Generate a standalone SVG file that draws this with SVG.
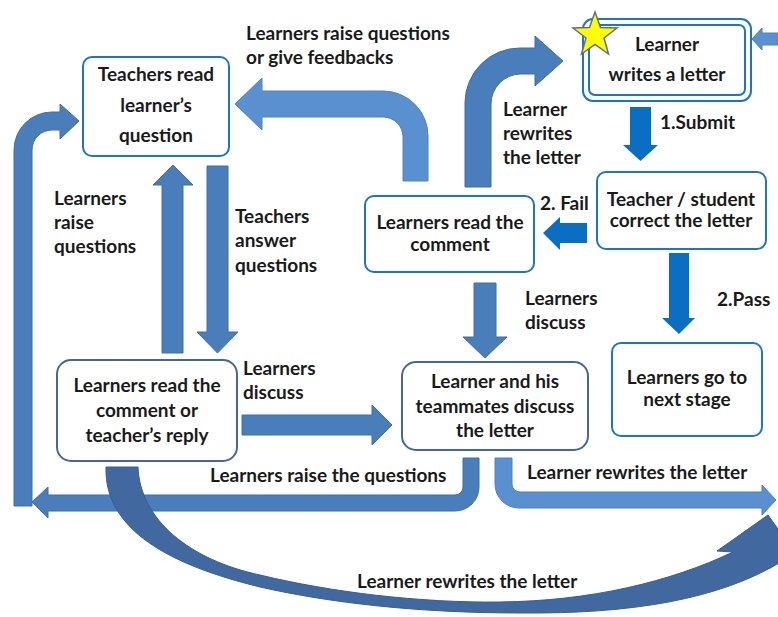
<svg xmlns="http://www.w3.org/2000/svg" width="778" height="617" viewBox="0 0 778 617">
<style>
.t{font-family:Lato,"Liberation Sans",sans-serif;font-weight:bold;font-size:19px;fill:#1a1a1a}
.c{text-anchor:middle}
.box{fill:#fff;stroke:#1f74c4;stroke-width:2}
.box2{fill:#fff;stroke:#44689a;stroke-width:2}
.dk{fill:#4a7ebb;stroke:#3f6ea6;stroke-width:1}
.lt{fill:#5a8fd0;stroke:#4f82c0;stroke-width:1}
.br{fill:#0a6fc2}
.cv{fill:#41689f;stroke:#385e94;stroke-width:1}
</style>
<rect width="778" height="617" fill="#fff"/>
<g id="connectors">
<path class="lt" d="M403,181 V137 A20 20 0 0 0 383,117 H262 V130 L235,104 L262,78 V91 H383 A45 45 0 0 1 428,136 V181 Z"/>
<path class="dk" d="M465,187 V102 A55 55 0 0 1 520,48 H535 V36 L563,61 L535,86 V74 H520 A30 30 0 0 0 491,104 V187 Z"/>
<path class="dk" d="M14,506 V150 A38 38 0 0 1 52,112 H60 V104 L79,121 L60,139 V130 H52 A20 20 0 0 0 32,150 V506 Z"/>
<path class="dk" d="M479,458 V487 A24 24 0 0 1 455,511 H48 V518 L32,502 L48,487 V495 H455 A8 8 0 0 0 463,487 V458 Z"/>
<path class="lt" d="M495,458 V484 A24 24 0 0 0 519,508 H762 V515 L776,500 L762,485 V492 H520 A8 8 0 0 1 512,484 V458 Z"/>
<path class="dk" d="M162,353 V185 H153 L173,165 L193,185 H183 V353 Z"/>
<path class="dk" d="M207,166 V332 H197 L217.5,353 L238,332 H228 V166 Z"/>
<path class="dk" d="M242,415 H372 V405 L392,425 L372,445 V435 H242 Z"/>
<path class="dk" d="M474,283 V337 H463 L485,358 L507,337 H496 V283 Z"/>
<path class="br" d="M630,107 V145 H623 L640.5,161 L658,145 H651 V107 Z"/>
<path class="br" d="M669,253 V318 H662 L679,334 L695,318 H689 V253 Z"/>
<path class="br" d="M587,223 H560 V217 L543,233 L560,250 V243 H587 Z"/>
<path class="lt" d="M778,33 H762 V28 L752,39 L762,50 V45 H778 Z"/>
<path class="cv" d="M106,467 L138,467 C140,520 190,560 260,575 C330,592 420,603 500,602 C590,601 670,582 733,552 L717,551 L768,515 L800,560 L784,560 C720,600 630,614 520,613 C420,613 330,603 260,587 C170,565 104,530 106,467 Z"/>
</g>
<g id="labels">
<text class="t" x="246" y="40">Learners raise questions</text>
<text class="t" x="246" y="64">or give feedbacks</text>
<text class="t" x="660" y="129">1.Submit</text>
<text class="t" x="503" y="116">Learner</text>
<text class="t" x="503" y="140">rewrites</text>
<text class="t" x="503" y="164">the letter</text>
<text class="t" x="540" y="210">2. Fail</text>
<text class="t" x="54" y="205">Learners</text>
<text class="t" x="54" y="229">raise</text>
<text class="t" x="54" y="253">questions</text>
<text class="t" x="235" y="223">Teachers</text>
<text class="t" x="235" y="247">answer</text>
<text class="t" x="235" y="272">questions</text>
<text class="t" x="525" y="305">Learners</text>
<text class="t" x="525" y="329">discuss</text>
<text class="t" x="717" y="306">2.Pass</text>
<text class="t" x="243" y="375">Learners</text>
<text class="t" x="243" y="399">discuss</text>
<text class="t" x="210" y="482">Learners raise the questions</text>
<text class="t" x="527" y="479">Learner rewrites the letter</text>
<text class="t" x="357" y="588">Learner rewrites the letter</text>
</g>
<g id="n-teachers-read">
<rect class="box" x="83" y="57" width="146" height="99" rx="9"/>
<text class="t c" x="156" y="81">Teachers read</text>
<text class="t c" x="156" y="112">learner’s</text>
<text class="t c" x="156" y="142">question</text>
</g>
<g id="n-writes-letter">
<rect class="box" x="583" y="19" width="168" height="82" rx="10" stroke-width="2.5"/>
<rect class="box" x="589" y="25" width="156" height="70" rx="6"/>
<polygon points="595,12 600.5,27.5 617,28 604,38 608.5,54 595,44.5 581.5,54 586,38 573,28 589.5,27.5" fill="#ffff00" stroke="#5d6f82" stroke-width="1.5"/>
<text class="t c" x="667" y="51">Learner</text>
<text class="t c" x="667" y="81">writes a letter</text>
</g>
<g id="n-correct">
<rect class="box" x="597" y="172" width="169" height="77" rx="9"/>
<text class="t c" x="681" y="206">Teacher / student</text>
<text class="t c" x="681" y="227">correct the letter</text>
</g>
<g id="n-read-comment">
<rect class="box" x="365" y="196" width="169" height="76" rx="9"/>
<text class="t c" x="450" y="229">Learners read the</text>
<text class="t c" x="450" y="251">comment</text>
</g>
<g id="n-next-stage">
<rect class="box" x="612" y="343" width="150" height="93" rx="9"/>
<text class="t c" x="687" y="384">Learners go to</text>
<text class="t c" x="687" y="406">next stage</text>
</g>
<g id="n-teammates">
<rect class="box2" x="402" y="362" width="186" height="88" rx="14"/>
<text class="t c" x="495" y="388">Learner and his</text>
<text class="t c" x="495" y="413">teammates discuss</text>
<text class="t c" x="495" y="437">the letter</text>
</g>
<g id="n-read-reply">
<rect class="box2" x="57" y="360" width="180" height="101" rx="14"/>
<text class="t c" x="147" y="392">Learners read the</text>
<text class="t c" x="147" y="417">comment or</text>
<text class="t c" x="147" y="442">teacher’s reply</text>
</g>
</svg>
